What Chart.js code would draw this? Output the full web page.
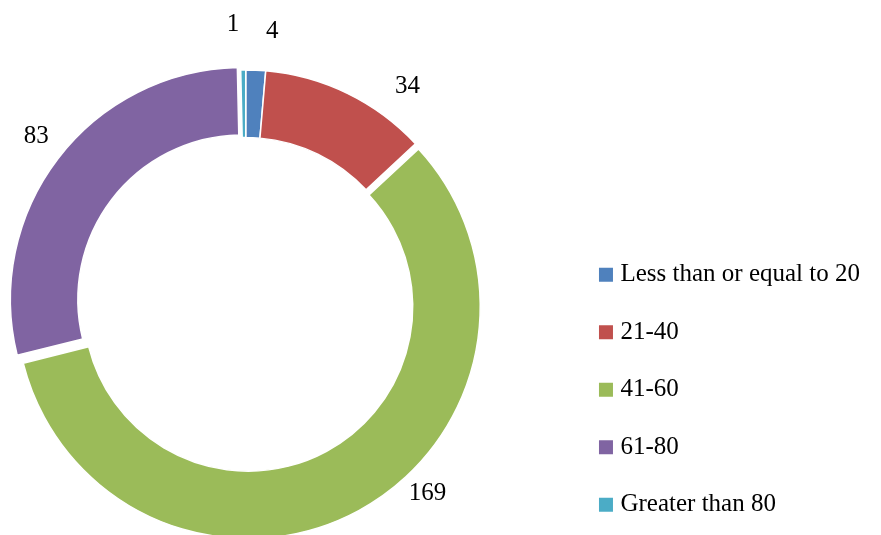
<!DOCTYPE html>
<html>
<head>
<meta charset="utf-8">
<script src="https://cdn.jsdelivr.net/npm/chart.js@4.4.1/dist/chart.umd.min.js"></script>
<style>
    html, body { margin: 0; padding: 0; background: #ffffff; overflow: hidden; }
    #wrap { position: relative; width: 881px; height: 535px; overflow: hidden; }
    #age_groups { position: absolute; left: -100px; top: 0; }
</style>
</head>
<body>
<div id="wrap"><canvas id="age_groups" width="981" height="560"></canvas></div>
<script>
// data
const categories = ['Less than or equal to 20', '21-40', '41-60', '61-80', 'Greater than 80'];
const counts = [4, 34, 169, 83, 1];
const sliceColors = ['#4F81BD', '#C0504D', '#9BBB59', '#8064A2', '#4BACC6'];
const explode = [0, 0, 21, 17, 0];

// value labels: small nudges so they sit where the original put them
const labelAngleShift = [3.1, 10.9, -15, 0.9, -2.0];
const labelGap = [40, 37.5, 37.5, 35, 46];

const serif = "'Liberation Serif', 'Times New Roman', serif";

// chart.js grows exploded arcs wider than 180deg; undo that so the ring keeps its size
const keepRingSize = {
    id: 'keepRingSize',
    afterDatasetUpdate(chart, args) {
        args.meta.data.forEach(function (arc) {
            const off = (arc.options.offset || 0) / 4;
            const fix = 1 - Math.sin(Math.min(Math.PI, arc.circumference || 0));
            arc.outerRadius -= off * fix;
            arc.innerRadius -= off * fix;
        });
    }
};

const valueLabels = {
    id: 'valueLabels',
    afterDatasetsDraw(chart) {
        const ctx = chart.ctx;
        const meta = chart.getDatasetMeta(0);
        ctx.save();
        ctx.font = '25px ' + serif;
        ctx.fillStyle = '#000000';
        ctx.textAlign = 'center';
        ctx.textBaseline = 'middle';
        meta.data.forEach(function (arc, i) {
            const {x, y, startAngle, endAngle, outerRadius} = arc.getProps(['x', 'y', 'startAngle', 'endAngle', 'outerRadius'], true);
            const mid = (startAngle + endAngle) / 2 + labelAngleShift[i] * Math.PI / 180;
            const r = outerRadius + labelGap[i];
            ctx.fillText(String(counts[i]), x + Math.cos(mid) * r, y + Math.sin(mid) * r);
        });
        ctx.restore();
    }
};

const baseLabels = Chart.overrides.doughnut.plugins.legend.labels.generateLabels;

const ctx = document.getElementById('age_groups').getContext('2d');
const ageChart = new Chart(ctx, {
    type: 'doughnut',
    data: {
        labels: categories,
        datasets: [{
            data: counts,
            backgroundColor: sliceColors,
            borderColor: '#ffffff',
            borderWidth: 1.5,
            offset: explode
        }]
    },
    options: {
        responsive: false,
        animation: false,
        radius: 232,
        cutout: '70.9%',
        layout: {
            padding: {left: 20, right: 11, top: 54.3, bottom: 10.3}
        },
        plugins: {
            tooltip: {enabled: false},
            legend: {
                position: 'right',
                align: 'end',
                labels: {
                    color: '#000000',
                    font: {family: serif, size: 25},
                    boxWidth: 4,
                    boxHeight: 4,
                    padding: 32.5,
                    generateLabels: function (chart) {
                        return baseLabels(chart).map(function (item) {
                            item.lineWidth = 10;
                            item.strokeStyle = item.fillStyle;
                            return item;
                        });
                    }
                }
            }
        }
    },
    plugins: [keepRingSize, valueLabels]
});
</script>
</body>
</html>
